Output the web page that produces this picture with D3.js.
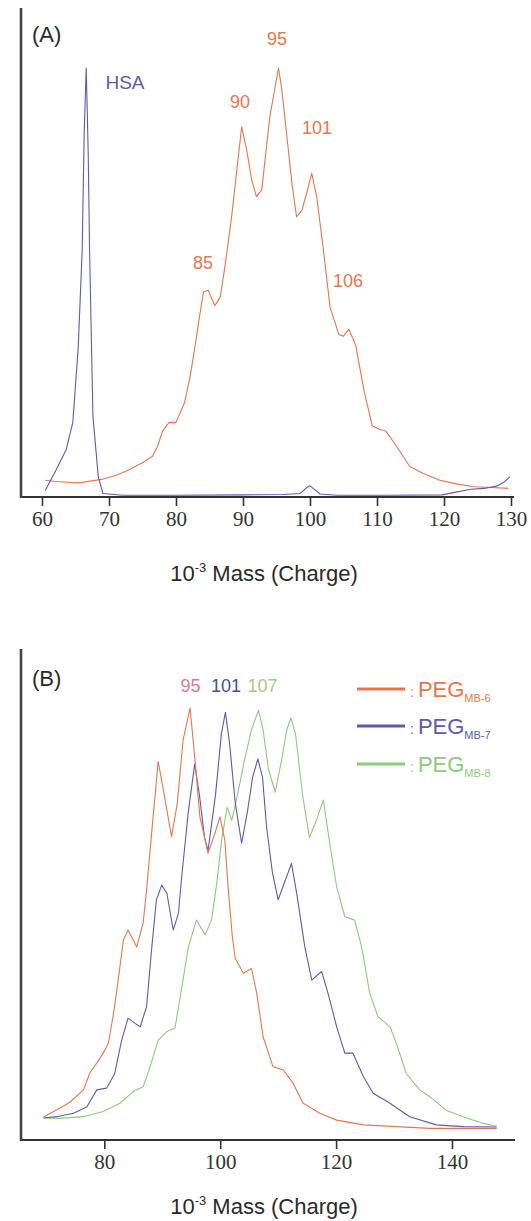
<!DOCTYPE html>
<html lang="en">
<head>
<meta charset="UTF-8">
<title>PEG mass spectra</title>
<style>
  body { margin: 0; background: #fff; }
  svg text { font-family: "Liberation Sans", Arial, sans-serif; }
</style>
</head>
<body>
<svg></svg>
<script src="https://d3js.org/d3.v7.min.js"></script>
<script>

// ---- data (mass in kDa, relative intensity 0-100) ----
var ticksA = [60, 70, 80, 90, 100, 110, 120, 130];
var ticksB = [80, 100, 120, 140];

var hsaA = [[60.5,1.6],[62.1,6.3],[63.6,11],[64.6,17.4],[65.4,34.7],[66.0,57.6],[66.3,85],[66.6,100],
  [66.9,80],[67.1,57.6],[67.6,18.9],[68.4,4.7],[69.1,0.8],[72,0.4],[80,0.4],[90,0.5],[96,0.6],
  [98.5,0.8],[99.5,2.2],[100,2.6],[100.8,1.6],[101.5,0.7],[104,0.4],[112,0.4],[119.7,0.5],
  [122,1.2],[124,1.8],[126,2.0],[128,2.6],[129,3.5],[129.8,4.7]];

var pegA = [[60.5,3.9],[62,3.6],[65.4,3.3],[68.9,4.1],[71,5],[72.9,6.3],[75,8],[76.5,9.5],[77.3,12],
  [78.0,15.4],[79.0,17.4],[80.0,17.4],[81.3,22.1],[82.1,28],[82.8,34.7],[83.5,42],[84.1,47.8],
  [84.8,48.2],[85.8,44.6],[86.6,46.6],[87.3,53.7],[88.3,65.3],[89.8,86.3],[90.55,80.9],[91.3,73.9],
  [92.0,70],[92.8,71.6],[94.0,88.6],[95.3,100],[95.8,94.9],[96.5,84.8],[97.3,73.1],[98.0,65.3],
  [98.8,66.9],[99.5,70.8],[100.25,75.5],[101.0,70],[102.0,57.6],[103.0,44.2],[104.3,37.9],
  [105.0,37.5],[105.8,39.1],[106.8,35.5],[108.1,24.5],[109.3,16.6],[110.3,15.8],[111.3,15.4],
  [112.4,13],[114.9,7.1],[116.9,5.5],[119.4,3.9],[122,3],[124.5,2.4],[127,2.2],[129.6,2.0]];

var peg6 = [[69.5,5.3],[70.1,5.8],[72.4,7.4],[74.1,8.8],[76.4,11.6],[77.5,15.5],[78.7,17.8],[79.8,20.1],
  [80.7,22.4],[81.6,29.3],[82.4,37],[83.3,46.3],[84.1,48.6],[85.6,44.7],[86.7,50.2],[87.3,58],
  [88.3,73],[89.3,87.6],[90.2,81],[91.6,70.2],[92.6,78],[93.6,92.6],[94.8,100],[95.6,88.7],
  [96.5,74.8],[97.9,66.4],[99.1,71],[99.95,74.8],[100.8,69.4],[101.4,57.9],[102.1,47],[102.6,42],
  [104.0,38.6],[105.4,39.7],[106.3,34],[107.4,23.9],[109.1,17],[110.9,16.2],[112.6,13.1],
  [114.3,8.5],[117.2,6.2],[120.1,4.6],[124.7,3.5],[130.4,3.1],[136.2,2.7],[147.7,2.7]];

var peg7 = [[69.5,5.1],[71.8,5.4],[74.7,6.2],[77.0,7.7],[78.7,11.6],[80.4,12],[81.8,15.4],[83.0,23.1],
  [84.1,28.2],[85.3,27],[86.2,26.2],[87.3,30.9],[88.2,44.7],[89.0,55.6],[89.9,59],[90.8,57.1],
  [91.9,48.6],[92.8,52.5],[93.3,60.2],[94.5,76],[95.6,87],[96.4,80],[97.3,70],[97.9,67],[99.2,80],
  [100.2,94],[100.9,99],[101.6,92],[102.6,78],[103.7,68.7],[104.7,76],[105.6,84],[106.5,88.2],
  [107.3,84],[108.0,72.5],[109.0,62],[110.0,55.6],[111.2,60],[112.3,64],[113.2,57.1],[114.6,44.7],
  [115.8,37],[117.5,39],[118.6,34],[120.1,26.2],[121.5,20.1],[122.9,20.1],[124.7,14.7],[126.4,10.8],
  [129.3,8.5],[132.7,5.4],[137.3,3.5],[141.9,3.1],[147.7,3.0]];

var peg8 = [[69.5,5.1],[72.2,5.0],[76.4,5.4],[79.8,6.6],[82.7,8.5],[85.0,11.2],[86.7,12.3],[87.9,17],
  [89.3,23.1],[90.8,25.1],[92.2,25.9],[93.3,34.7],[94.5,44.7],[95.9,50.9],[97.4,47.5],[98.5,50.9],
  [99.4,59.4],[100.3,70],[101.2,77],[102.0,74],[103.0,80],[104.2,88],[105.4,95],[106.6,99.5],
  [107.4,95],[108.3,86],[109.5,80.5],[110.6,88],[111.5,95],[112.2,97.7],[113.0,94],[114.2,80],
  [115.4,70],[116.6,74],[117.8,78.7],[118.9,68.7],[120.1,58.6],[121.5,51.7],[123.2,50.9],[124.4,44.7],
  [125.8,34],[127.2,28.6],[129.3,26.2],[130.4,22.4],[132.1,15.4],[134.4,11.6],[136.2,10],[139.0,6.9],
  [141.9,5.4],[145.3,3.9],[147.7,3.2]];

var peakLabelsA = [85, 90, 95, 101, 106];
var peakLabelsB = [95, 101, 107];
var legendNames = ["MB-6", "MB-7", "MB-8"];

// colours
var cOrange = "#e8764c", cBlue = "#5c5cae", cGreen = "#8fca7c";
var cText = "#2a2a2a";

var svg = d3.select("svg").attr("width", 531).attr("height", 1221);

var line = function(x, y) {
  return d3.line().x(function(d) { return x(d[0]); }).y(function(d) { return y(d[1]); });
};

function styleAxis(g) {
  g.select(".domain").remove();
  g.selectAll(".tick line").attr("stroke", "#333").attr("stroke-width", 1.6);
  g.selectAll(".tick text")
    .style("font-family", "'Liberation Serif', 'Times New Roman', serif")
    .style("font-size", "21px")
    .attr("fill", "#333");
}

// ---------------- panel A ----------------
var xA = d3.scaleLinear().domain([60, 130]).range([42, 511]);
var yA = d3.scaleLinear().domain([0, 100]).range([497, 68]);

svg.append("g")
  .attr("transform", "translate(0,497)")
  .call(d3.axisBottom(xA).tickValues(ticksA).tickSize(9).tickSizeOuter(0).tickPadding(5))
  .call(styleAxis);

svg.append("line").attr("x1", 20).attr("x2", 514).attr("y1", 497).attr("y2", 497)
  .attr("stroke", "#333").attr("stroke-width", 2);
svg.append("line").attr("x1", 21).attr("x2", 21).attr("y1", 8).attr("y2", 498)
  .attr("stroke", "#444").attr("stroke-width", 2.6);

svg.append("path").datum(pegA).attr("fill", "none").attr("stroke", cOrange)
  .attr("stroke-width", 1.1).attr("stroke-linejoin", "round").attr("d", line(xA, yA));
svg.append("path").datum(hsaA).attr("fill", "none").attr("stroke", cBlue)
  .attr("stroke-width", 1.1).attr("stroke-linejoin", "round").attr("d", line(xA, yA));

svg.append("text").attr("x", 32).attr("y", 42).attr("font-size", 22).attr("fill", cText).text("(A)");
svg.append("text").attr("x", 125).attr("y", 89).attr("font-size", 19).attr("text-anchor", "middle")
  .attr("fill", cBlue).text("HSA");

var posA = { 85: [203, 269], 90: [240, 108], 95: [277, 45], 101: [317, 134], 106: [348, 287] };
svg.selectAll(".plA").data(peakLabelsA).enter().append("text")
  .attr("x", function(d) { return posA[d][0]; })
  .attr("y", function(d) { return posA[d][1]; })
  .attr("text-anchor", "middle").attr("font-size", 18).attr("fill", cOrange)
  .text(function(d) { return d; });

function axisTitle(y) {
  var t = svg.append("text").attr("x", 264).attr("y", y).attr("text-anchor", "middle")
    .attr("font-size", 22).attr("fill", cText);
  t.append("tspan").text("10");
  t.append("tspan").attr("font-size", 13).attr("dy", -9).text("-3");
  t.append("tspan").attr("dy", 9).text(" Mass (Charge)");
}
axisTitle(581);

// ---------------- panel B ----------------
var xB = d3.scaleLinear().domain([80, 140]).range([104.3, 452]);
var yB = d3.scaleLinear().domain([0, 100]).range([1140, 708]);

svg.append("g")
  .attr("transform", "translate(0,1140)")
  .call(d3.axisBottom(xB).tickValues(ticksB).tickSize(9).tickSizeOuter(0).tickPadding(5))
  .call(styleAxis);

svg.append("line").attr("x1", 20).attr("x2", 515).attr("y1", 1140).attr("y2", 1140)
  .attr("stroke", "#333").attr("stroke-width", 2);
svg.append("line").attr("x1", 21).attr("x2", 21).attr("y1", 649).attr("y2", 1141)
  .attr("stroke", "#444").attr("stroke-width", 2.6);

var seriesB = [
  { data: peg8, color: cGreen },
  { data: peg7, color: cBlue },
  { data: peg6, color: cOrange }
];
seriesB.forEach(function(s) {
  svg.append("path").datum(s.data).attr("fill", "none").attr("stroke", s.color)
    .attr("stroke-width", 1.1).attr("stroke-linejoin", "round").attr("d", line(xB, yB));
});

svg.append("text").attr("x", 32).attr("y", 686).attr("font-size", 22).attr("fill", cText).text("(B)");

var colB = { 95: "#e07a8a", 101: "#4a4a96", 107: "#a8c888" };
var posB = { 95: 190.6, 101: 226, 107: 262.4 };
svg.selectAll(".plB").data(peakLabelsB).enter().append("text")
  .attr("x", function(d) { return posB[d]; })
  .attr("y", 692)
  .attr("text-anchor", "middle").attr("font-size", 18).attr("fill", function(d) { return colB[d]; })
  .text(function(d) { return d; });

var legCols = [cOrange, cBlue, cGreen];
var legY = [689, 726, 764];
legendNames.forEach(function(n, i) {
  svg.append("line").attr("x1", 357).attr("x2", 405).attr("y1", legY[i]).attr("y2", legY[i])
    .attr("stroke", legCols[i]).attr("stroke-width", 3);
  var t = svg.append("text").attr("x", 410).attr("y", legY[i] + 8).attr("font-size", 22)
    .attr("fill", legCols[i]);
  t.append("tspan").attr("font-size", 14).text(":");
  t.append("tspan").attr("dx", 4).text("PEG");
  t.append("tspan").attr("font-size", 11).attr("dy", 5).text(n);
});

axisTitle(1214);
</script>
</body>
</html>
